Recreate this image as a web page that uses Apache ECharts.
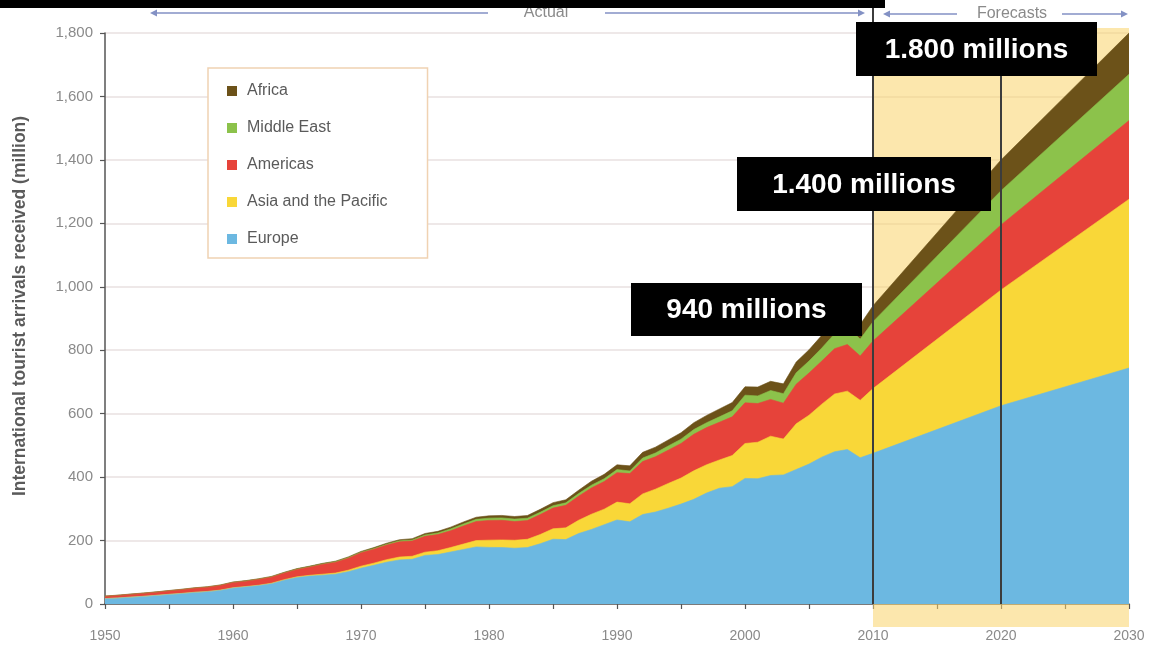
<!DOCTYPE html>
<html>
<head>
<meta charset="utf-8">
<script src="https://cdn.jsdelivr.net/npm/echarts@6/dist/echarts.min.js"></script>
<style>
  html, body { margin: 0; padding: 0; background: #ffffff; }
  #chart { width: 1153px; height: 649px; }
</style>
</head>
<body>
<div id="chart"></div>
<script>
// International tourist arrivals by region (million): actual 1950-2010, forecasts 2020 and 2030
const years = [
  1950, 1951, 1952, 1953, 1954, 1955, 1956, 1957, 1958, 1959,
  1960, 1961, 1962, 1963, 1964, 1965, 1966, 1967, 1968, 1969,
  1970, 1971, 1972, 1973, 1974, 1975, 1976, 1977, 1978, 1979,
  1980, 1981, 1982, 1983, 1984, 1985, 1986, 1987, 1988, 1989,
  1990, 1991, 1992, 1993, 1994, 1995, 1996, 1997, 1998, 1999,
  2000, 2001, 2002, 2003, 2004, 2005, 2006, 2007, 2008, 2009,
  2010, 2020, 2030
];

const europe = [
  16.8, 19.0, 21.5, 24.0, 27.0, 30.1, 33.0, 36.5, 39.0, 43.0,
  50.4, 54.0, 58.0, 64.0, 75.0, 83.7, 88.0, 91.0, 94.0, 102.0,
  113.0, 122.0, 132.0, 139.0, 141.0, 153.2, 156.0, 164.0, 172.0, 180.0,
  178.5, 178.0, 176.0, 178.0, 190.0, 204.3, 203.0, 222.0, 235.0, 250.0,
  265.0, 259.0, 282.0, 290.0, 302.0, 315.0, 330.0, 350.0, 365.0, 370.0,
  395.9, 395.0, 405.0, 407.0, 424.0, 441.0, 463.0, 480.0, 487.0, 461.0,
  475.0, 625.0, 744.0
];

const asiaPacific = [
  0.2, 0.2, 0.3, 0.3, 0.4, 0.5, 0.5, 0.6, 0.7, 0.8,
  0.9, 1.1, 1.3, 1.5, 1.8, 2.1, 2.5, 3.0, 3.5, 4.5,
  6.2, 6.8, 7.8, 9.0, 9.5, 10.2, 12.0, 14.0, 17.0, 20.0,
  22.8, 24.0, 25.0, 26.0, 29.0, 32.9, 37.0, 42.0, 48.0, 49.0,
  56.2, 57.0, 65.0, 72.0, 78.0, 82.0, 90.0, 89.0, 89.0, 98.0,
  110.1, 115.0, 124.0, 113.0, 144.0, 154.0, 167.0, 182.0, 184.0, 181.0,
  204.0, 365.0, 532.0
];

const americas = [
  7.5, 8.0, 8.8, 9.5, 10.0, 11.0, 12.0, 13.0, 13.5, 15.0,
  16.7, 17.0, 18.5, 19.5, 21.0, 23.2, 26.0, 31.0, 34.0, 38.0,
  42.3, 44.0, 46.0, 48.0, 48.0, 50.0, 51.0, 53.0, 57.0, 60.0,
  62.3, 62.0, 59.0, 59.0, 63.0, 65.1, 71.0, 76.0, 83.0, 87.0,
  92.8, 95.0, 102.0, 102.0, 105.0, 109.0, 115.0, 117.0, 119.0, 122.0,
  128.2, 122.0, 116.0, 113.0, 125.0, 133.0, 136.0, 143.0, 147.0, 140.0,
  150.0, 205.0, 248.0
];

const middleEast = [
  0.2, 0.2, 0.2, 0.3, 0.3, 0.3, 0.4, 0.4, 0.5, 0.5,
  0.6, 0.7, 0.8, 0.9, 1.0, 1.2, 1.3, 1.4, 1.5, 1.7,
  1.9, 2.2, 2.6, 3.0, 3.5, 4.2, 4.8, 5.5, 6.2, 6.8,
  7.1, 7.4, 7.6, 7.5, 7.3, 7.5, 7.8, 8.0, 8.5, 9.0,
  9.6, 8.5, 11.0, 12.0, 13.0, 13.7, 15.0, 15.5, 17.0, 19.0,
  24.1, 24.0, 28.0, 30.0, 36.0, 37.9, 41.0, 47.0, 55.0, 53.0,
  61.0, 108.0, 146.0
];

const africa = [
  0.5, 0.5, 0.6, 0.6, 0.6, 0.7, 0.7, 0.7, 0.8, 0.8,
  0.8, 0.9, 1.0, 1.1, 1.2, 1.4, 1.6, 1.8, 2.0, 2.2,
  2.4, 2.8, 3.2, 3.6, 4.0, 4.7, 5.2, 5.8, 6.4, 6.8,
  7.2, 7.8, 8.2, 8.5, 9.0, 9.7, 9.8, 10.5, 12.5, 13.8,
  15.2, 16.0, 18.0, 18.5, 19.0, 20.1, 21.5, 23.0, 25.0, 26.0,
  26.5, 28.0, 29.0, 31.0, 34.0, 35.4, 40.0, 44.0, 44.0, 46.0,
  50.0, 97.0, 130.0
];

// Stacking order, bottom to top; legend lists them top to bottom
const regionNames = ['Europe', 'Asia and the Pacific', 'Americas', 'Middle East', 'Africa'];
const legendOrder = ['Africa', 'Middle East', 'Americas', 'Asia and the Pacific', 'Europe'];

// Period markers and callouts
const periodYears = { forecastStart: 2010, forecastMid: 2020, forecastEnd: 2030 };
const callouts = ['940 millions', '1.400 millions', '1.800 millions'];
const axisTitle = 'International tourist arrivals received (million)';

const FONT = '"Liberation Sans", Arial, Helvetica, sans-serif';
const regionValues = [europe, asiaPacific, americas, middleEast, africa];
const regionColors = ['#6cb8e1', '#f9d738', '#e6433a', '#8cc24b', '#6c5219'];

// Cumulative layer tops: each band is drawn as an area from zero up to the
// running total, highest layer first so the lower bands paint over it.
const layerTops = [];
regionValues.forEach((vals, k) => {
  layerTops.push(vals.map((v, i) => (k === 0 ? 0 : layerTops[k - 1][i]) + v));
});

const series = [];
for (let k = regionNames.length - 1; k >= 0; k--) {
  series.push({
    type: 'line',
    name: regionNames[k],
    symbol: 'none',
    z: 3,
    lineStyle: { width: 0.6, color: regionColors[k] },
    itemStyle: { color: regionColors[k] },
    areaStyle: { color: regionColors[k], opacity: 1 },
    data: years.map((y, i) => [y, layerTops[k][i]])
  });
}

const chart = echarts.init(document.getElementById('chart'), null, { renderer: 'canvas' });

chart.setOption({
  animation: false,
  backgroundColor: '#ffffff',
  textStyle: { fontFamily: FONT },
  grid: { left: 105, right: 24, top: 33, bottom: 45, containLabel: false },
  legend: {
    data: legendOrder,
    orient: 'vertical',
    left: 208,
    top: 68,
    padding: [15, 40, 11, 19],
    itemGap: 21,
    itemWidth: 10,
    itemHeight: 10,
    icon: 'rect',
    backgroundColor: '#ffffff',
    borderColor: '#f0d2b2',
    borderWidth: 1.5,
    textStyle: { color: '#5a5a5a', fontSize: 16, fontFamily: FONT, padding: [0, 0, 0, 5] }
  },
  xAxis: {
    type: 'value',
    min: 1950,
    max: 2030,
    interval: 5,
    axisLine: { show: true, onZero: false, lineStyle: { color: '#555555', width: 1.5 } },
    axisTick: { show: true, length: 5, lineStyle: { color: '#555555', width: 1.2 } },
    axisLabel: {
      color: '#8a8a8a', fontSize: 14, margin: 25,
      formatter: v => (v % 10 === 0 ? String(v) : '')
    },
    splitLine: { show: false }
  },
  yAxis: {
    type: 'value',
    min: 0,
    max: 1800,
    interval: 200,
    axisLine: { show: true, lineStyle: { color: '#555555', width: 1.5 } },
    axisTick: { show: true, length: 5, lineStyle: { color: '#555555', width: 1.2 } },
    axisLabel: {
      color: '#8a8a8a', fontSize: 15, margin: 12,
      formatter: v => v.toLocaleString('en-US')
    },
    splitLine: { show: true, lineStyle: { color: '#e8e0e0', width: 1.5 } }
  },
  series: series
});

// Overlays positioned from the axes
const px = (x, y) => chart.convertToPixel({ gridIndex: 0 }, [x, y]);
const [xStart, yZero] = px(periodYears.forecastStart, 0);
const [xMid] = px(periodYears.forecastMid, 0);
const [xEnd, yMax] = px(periodYears.forecastEnd, 1800);

const ARROW = '#8391c4';
const arrowHead = (x, y, dir) => ({
  type: 'polygon', z: 20,
  shape: { points: [[x, y], [x - 7 * dir, y - 3.5], [x - 7 * dir, y + 3.5]] },
  style: { fill: ARROW }
});
const hLine = (x1, x2, y) => ({
  type: 'line', z: 20,
  shape: { x1: x1, y1: y, x2: x2, y2: y },
  style: { stroke: ARROW, lineWidth: 1.5 }
});
const callout = (x, y, w, h, label) => ({
  type: 'group', z: 40,
  children: [
    { type: 'rect', z: 40, shape: { x: x, y: y, width: w, height: h }, style: { fill: '#000000' } },
    { type: 'text', z: 41, x: x + w / 2, y: y + h / 2 + 1,
      style: { text: label, fill: '#ffffff', font: 'bold 28px ' + FONT, align: 'center', verticalAlign: 'middle' } }
  ]
});

const arrowY = 13;
chart.setOption({
  graphic: [
    // forecast period band
    { type: 'rect', z: 1, shape: { x: xStart, y: yMax - 5, width: xEnd - xStart, height: (yZero + 23) - (yMax - 5) },
      style: { fill: 'rgba(249, 212, 105, 0.55)' } },
    // period dividers
    { type: 'line', z: 10, shape: { x1: xStart, y1: 0, x2: xStart, y2: yZero },
      style: { stroke: '#3c3c3c', lineWidth: 2 } },
    { type: 'line', z: 10, shape: { x1: xMid, y1: yMax - 5, x2: xMid, y2: yZero },
      style: { stroke: '#3c3c3c', lineWidth: 2 } },
    // vertical axis title
    { type: 'text', z: 20, x: 20, y: 306, rotation: Math.PI / 2,
      style: { text: axisTitle, fill: '#5a5a5a', font: 'bold 17.5px ' + FONT, align: 'center', verticalAlign: 'middle' } },
    // "Actual" span
    hLine(152, 488, arrowY), arrowHead(150, arrowY, -1),
    { type: 'text', z: 20, x: 546, y: arrowY, style: { text: 'Actual', fill: '#8a8a8a', font: '16px ' + FONT, align: 'center', verticalAlign: 'middle' } },
    hLine(605, 860, arrowY), arrowHead(865, arrowY, 1),
    // "Forecasts" span
    hLine(888, 957, arrowY + 1), arrowHead(883, arrowY + 1, -1),
    { type: 'text', z: 20, x: 1012, y: arrowY + 1, style: { text: 'Forecasts', fill: '#8a8a8a', font: '16px ' + FONT, align: 'center', verticalAlign: 'middle' } },
    hLine(1062, 1122, arrowY + 1), arrowHead(1128, arrowY + 1, 1),
    // top strip
    { type: 'rect', z: 30, shape: { x: 0, y: 0, width: 885, height: 8 }, style: { fill: '#000000' } },
    // callouts
    callout(631, 283, 231, 53, callouts[0]),
    callout(737, 157, 254, 54, callouts[1]),
    callout(856, 22, 241, 54, callouts[2])
  ]
});
</script>
</body>
</html>
